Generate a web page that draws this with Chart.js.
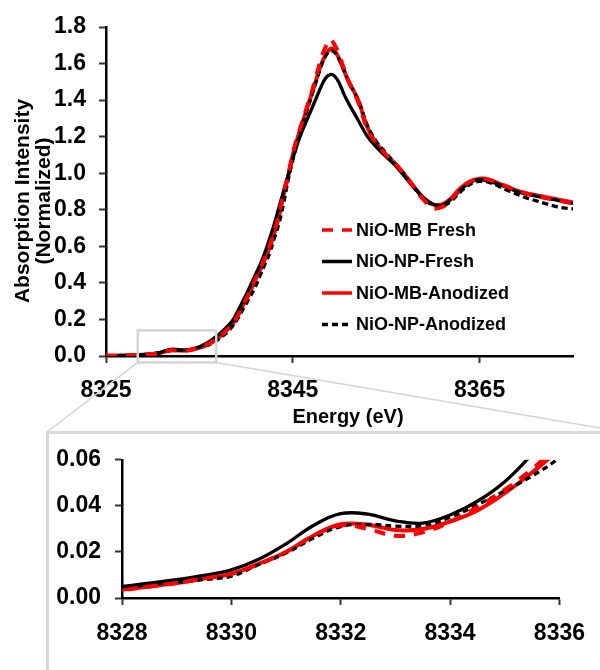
<!DOCTYPE html>
<html>
<head>
<meta charset="utf-8">
<script src="https://cdn.jsdelivr.net/npm/chart.js@4.4.0/dist/chart.umd.min.js"></script>
<style>
  body { margin: 0; background: #fff; }
  #wrap { position: relative; width: 600px; height: 670px; overflow: hidden; }
  #frame { position: absolute; left: 46px; top: 431px; width: 600px; height: 300px; border: 3px solid #d9d9d9; box-sizing: border-box; }
  #main { position: absolute; left: 0; top: 0; }
  #zoom { position: absolute; left: 0; top: 432px; }
</style>
</head>
<body>
<div id="wrap">
  <div id="frame"></div>
  <canvas id="main" width="600" height="432"></canvas>
  <canvas id="zoom" width="600" height="238"></canvas>
</div>
<script>
// energy grid (eV), finer where the pre-edge inset looks
const energy = [8325, 8326, 8327, 8328, 8328.5, 8329, 8329.5, 8330, 8330.5, 8331,
  8331.5, 8332, 8332.5, 8333, 8333.5, 8334, 8334.5, 8335, 8335.5, 8336,
  8336.5, 8337, 8337.5, 8338, 8338.5, 8339, 8339.5, 8340, 8340.5, 8341,
  8341.5, 8342, 8342.5, 8343, 8343.5, 8344, 8344.5, 8345, 8345.5, 8346,
  8346.5, 8347, 8347.5, 8348, 8348.5, 8349, 8349.5, 8350, 8350.5, 8351,
  8352, 8353, 8354, 8355, 8356, 8357, 8358, 8359, 8360, 8361,
  8362, 8363, 8364, 8365, 8366, 8367, 8368, 8369, 8370, 8371,
  8372, 8373, 8374, 8375];

const mbFresh = [0.001, 0.002, 0.003, 0.0035, 0.005, 0.0065, 0.0085, 0.0105, 0.0148, 0.020,
  0.027, 0.0315, 0.030, 0.027, 0.0285, 0.033, 0.0395, 0.047, 0.056, 0.067,
  0.081, 0.099, 0.12, 0.145, 0.17, 0.21, 0.26, 0.31, 0.365, 0.42,
  0.475, 0.535, 0.60, 0.68, 0.77, 0.89, 0.99, 1.11, 1.20, 1.28,
  1.36, 1.44, 1.53, 1.62, 1.69, 1.73, 1.70, 1.64, 1.57, 1.50,
  1.39, 1.24, 1.16, 1.10, 1.05, 0.99, 0.92, 0.855, 0.81, 0.815,
  0.86, 0.92, 0.955, 0.97, 0.965, 0.945, 0.925, 0.905, 0.89, 0.875,
  0.865, 0.855, 0.845, 0.835];

const npFresh = [0.001, 0.002, 0.003, 0.005, 0.0065, 0.008, 0.0098, 0.0122, 0.0168, 0.0235,
  0.0315, 0.0366, 0.0364, 0.0335, 0.0325, 0.036, 0.042, 0.0505, 0.0625, 0.077,
  0.095, 0.115, 0.137, 0.162, 0.19, 0.235, 0.285, 0.335, 0.39, 0.445,
  0.50, 0.565, 0.64, 0.72, 0.81, 0.90, 0.99, 1.08, 1.16, 1.23,
  1.29, 1.35, 1.41, 1.47, 1.52, 1.54, 1.53, 1.49, 1.43, 1.38,
  1.29, 1.20, 1.14, 1.09, 1.04, 0.98, 0.92, 0.865, 0.83, 0.825,
  0.86, 0.91, 0.95, 0.965, 0.955, 0.94, 0.92, 0.90, 0.885, 0.875,
  0.865, 0.855, 0.845, 0.835];

const mbAnodized = [0.001, 0.002, 0.003, 0.0037, 0.005, 0.0065, 0.0085, 0.0105, 0.0148, 0.020,
  0.027, 0.032, 0.0318, 0.0295, 0.030, 0.0332, 0.038, 0.0455, 0.0545, 0.065,
  0.08, 0.098, 0.12, 0.145, 0.17, 0.21, 0.26, 0.31, 0.36, 0.42,
  0.47, 0.53, 0.59, 0.67, 0.76, 0.88, 0.98, 1.10, 1.19, 1.27,
  1.35, 1.43, 1.51, 1.59, 1.645, 1.68, 1.67, 1.62, 1.56, 1.50,
  1.40, 1.25, 1.16, 1.10, 1.05, 0.99, 0.925, 0.865, 0.83, 0.83,
  0.865, 0.92, 0.955, 0.97, 0.965, 0.945, 0.925, 0.905, 0.89, 0.88,
  0.87, 0.86, 0.85, 0.84];

const npAnodized = [0.001, 0.002, 0.003, 0.0045, 0.0058, 0.0068, 0.008, 0.0095, 0.0145, 0.0195,
  0.026, 0.031, 0.032, 0.0312, 0.0315, 0.035, 0.0405, 0.0465, 0.053, 0.061,
  0.073, 0.09, 0.11, 0.13, 0.16, 0.195, 0.24, 0.285, 0.33, 0.38,
  0.44, 0.50, 0.56, 0.64, 0.72, 0.83, 0.96, 1.07, 1.17, 1.26,
  1.34, 1.42, 1.50, 1.58, 1.64, 1.67, 1.66, 1.62, 1.56, 1.50,
  1.40, 1.26, 1.17, 1.11, 1.05, 0.99, 0.92, 0.86, 0.825, 0.82,
  0.85, 0.90, 0.94, 0.955, 0.95, 0.93, 0.905, 0.885, 0.865, 0.85,
  0.835, 0.82, 0.81, 0.805];

const mainTicksX = [8325, 8345, 8365];
const mainTicksY = [0, 0.2, 0.4, 0.6, 0.8, 1.0, 1.2, 1.4, 1.6, 1.8];
const zoomTicksX = [8328, 8330, 8332, 8334, 8336];
const zoomTicksY = [0, 0.02, 0.04, 0.06];

const FONT = "'Liberation Sans', Arial, sans-serif";

function series(values) {
    return energy.map((e, i) => ({ x: e, y: values[i] }));
}

function makeDatasets() {
    return [
        { label: "NiO-MB Fresh", data: series(mbFresh), borderColor: "#ff0000", borderWidth: 4, borderDash: [11, 9], order: 1 },
        { label: "NiO-NP-Fresh", data: series(npFresh), borderColor: "#000000", borderWidth: 3.3, order: 3 },
        { label: "NiO-MB-Anodized", data: series(mbAnodized), borderColor: "#ff0000", borderWidth: 4, order: 4 },
        { label: "NiO-NP-Anodized", data: series(npAnodized), borderColor: "#000000", borderWidth: 3.3, borderDash: [6, 4], order: 2 }
    ].map(d => Object.assign(d, { pointRadius: 0, tension: 0.4, fill: false }));
}

function axis(min, max, ticks, digits, pad, extra) {
    return Object.assign({
        type: "linear",
        min: min,
        max: max,
        afterBuildTicks: s => { s.ticks = ticks.map(v => ({ value: v })); },
        border: { color: "#000", width: 2.5 },
        grid: { display: true, drawOnChartArea: false, tickLength: 7, tickColor: "#333", tickWidth: 2 },
        ticks: {
            color: "#000",
            padding: pad,
            maxRotation: 0,
            font: { family: FONT, size: 23, weight: "bold" },
            callback: v => Number(v).toFixed(digits)
        }
    }, extra);
}

const insideLegend = {
    id: "insideLegend",
    afterDraw(chart) {
        const { ctx, chartArea } = chart;
        ctx.save();
        ctx.font = "bold 18px " + FONT;
        ctx.textBaseline = "middle";
        ctx.fillStyle = "#000";
        chart.data.datasets.forEach((ds, i) => {
            const x = chartArea.left + 216;
            const y = chartArea.top + 203 + i * 31.5;
            ctx.strokeStyle = ds.borderColor;
            ctx.lineWidth = 3.5;
            ctx.setLineDash(ds.borderDash || []);
            ctx.beginPath();
            ctx.moveTo(x, y);
            ctx.lineTo(x + 30, y);
            ctx.stroke();
            ctx.setLineDash([]);
            ctx.fillText(ds.label, x + 34, y + 1);
        });
        ctx.restore();
    }
};

const axisTitles = {
    id: "axisTitles",
    afterDraw(chart) {
        const { ctx, chartArea } = chart;
        ctx.save();
        ctx.fillStyle = "#000";
        ctx.textAlign = "center";
        ctx.textBaseline = "middle";
        ctx.font = "bold 20px " + FONT;
        ctx.fillText("Energy (eV)", chartArea.left + 242, 417);
        ctx.font = "bold 21px " + FONT;
        ctx.translate(23, chartArea.top + 174);
        ctx.rotate(-Math.PI / 2);
        ctx.fillText("Absorption Intensity", 0, 0);
        ctx.fillText("(Normalized)", 0, 21.5);
        ctx.restore();
    }
};

// grey box over the pre-edge + lines leading down to the inset frame
const zoomMarker = {
    id: "zoomMarker",
    afterDraw(chart) {
        const { ctx, scales } = chart;
        const l = scales.x.getPixelForValue(8328.4);
        const r = scales.x.getPixelForValue(8336.8);
        const t = scales.y.getPixelForValue(0.14);
        const b = scales.y.getPixelForValue(-0.035);
        ctx.save();
        ctx.strokeStyle = "#d4d4d4";
        ctx.lineWidth = 2.5;
        ctx.strokeRect(l, t, r - l, b - t);
        ctx.lineWidth = 1.5;
        ctx.beginPath();
        ctx.moveTo(l, b);
        ctx.lineTo(47, 432);
        ctx.moveTo(r, b);
        ctx.lineTo(600, 428);
        ctx.stroke();
        ctx.restore();
    }
};

new Chart(document.getElementById("main"), {
    type: "line",
    data: { datasets: makeDatasets() },
    options: {
        responsive: false,
        animation: false,
        layout: { padding: { left: 0, right: 27, top: 27, bottom: 0 } },
        plugins: { legend: { display: false }, tooltip: { enabled: false } },
        scales: {
            x: axis(8325, 8375, mainTicksX, 0, 14, { afterFit: s => { s.height = 76; } }),
            y: axis(0, 1.8, mainTicksY, 1, 13, { afterFit: s => { s.width = 106; } })
        }
    },
    plugins: [insideLegend, axisTitles, zoomMarker]
});

new Chart(document.getElementById("zoom"), {
    type: "line",
    data: { datasets: makeDatasets() },
    options: {
        responsive: false,
        animation: false,
        layout: { padding: { left: 0, right: 28, top: 20, bottom: 0 } },
        plugins: { legend: { display: false }, tooltip: { enabled: false } },
        scales: {
            x: axis(8328, 8336, zoomTicksX, 0, 15, { afterFit: s => { s.height = 72; } }),
            y: axis(0, 0.06, zoomTicksY, 2, 14, { afterFit: s => { s.width = 122; } })
        }
    }
});
</script>
</body>
</html>
